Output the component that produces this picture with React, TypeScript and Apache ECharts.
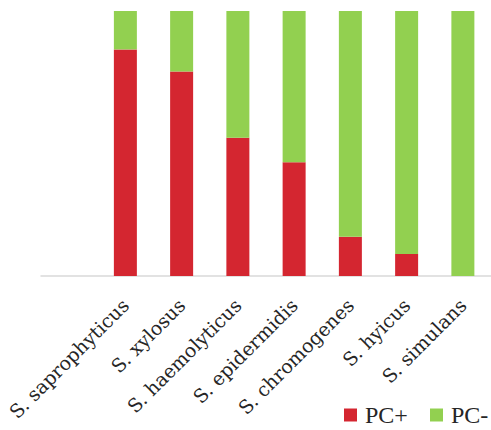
import React, { useEffect, useRef } from "react";
import * as echarts from "echarts";

const categories = ["", "S. saprophyticus", "S. xylosus", "S. haemolyticus", "S. epidermidis", "S. chromogenes", "S. hyicus", "S. simulans"];
const pcPlus = [null, 85.5, 77.2, 52.2, 42.9, 14.8, 8.3, 0];
const pcMinus = [null, 14.5, 22.8, 47.8, 57.1, 85.2, 91.7, 100];
const seriesNames = ["PC+", "PC-"];

export default function App() {
  const ref = useRef<HTMLDivElement>(null);
  useEffect(() => {
    const chart = echarts.init(ref.current!, null, { renderer: "svg" });
    const labelFont = "'DejaVu Serif', serif";
    const legendFont = "'Liberation Serif', serif";
    const legendCommon = {
      top: 398,
      itemWidth: 13,
      itemHeight: 13,
      icon: "rect",
      textStyle: { fontFamily: legendFont, fontSize: 24, lineHeight: 22, color: "#262626", padding: [0, 0, 0, 3] },
    };
    chart.setOption({
      animation: false,
      grid: { left: 41, top: 11, width: 460, height: 265, containLabel: false },
      legend: [
        { ...legendCommon, data: [seriesNames[0]], left: 339 },
        { ...legendCommon, data: [seriesNames[1]], left: 425 },
      ],
      xAxis: {
        type: "category",
        data: categories,
        axisLine: { lineStyle: { color: "#d9d9d9", width: 1.5 } },
        axisTick: { show: false },
        axisLabel: {
          rotate: 45,
          interval: 0,
          margin: 26,
          fontFamily: labelFont,
          fontSize: 19,
          color: "#262626",
        },
      },
      yAxis: { type: "value", min: 0, max: 100, show: false, splitLine: { show: false } },
      series: [
        {
          name: seriesNames[0],
          type: "bar",
          stack: "total",
          barWidth: 23,
          data: pcPlus,
          itemStyle: { color: "#d42630" },
        },
        {
          name: seriesNames[1],
          type: "bar",
          stack: "total",
          barWidth: 23,
          data: pcMinus,
          itemStyle: { color: "#92d050" },
        },
      ],
    });
    return () => chart.dispose();
  }, []);
  return <div ref={ref} style={{ width: 491, height: 430, position: "absolute", left: 0, top: 0 }} />;
}
